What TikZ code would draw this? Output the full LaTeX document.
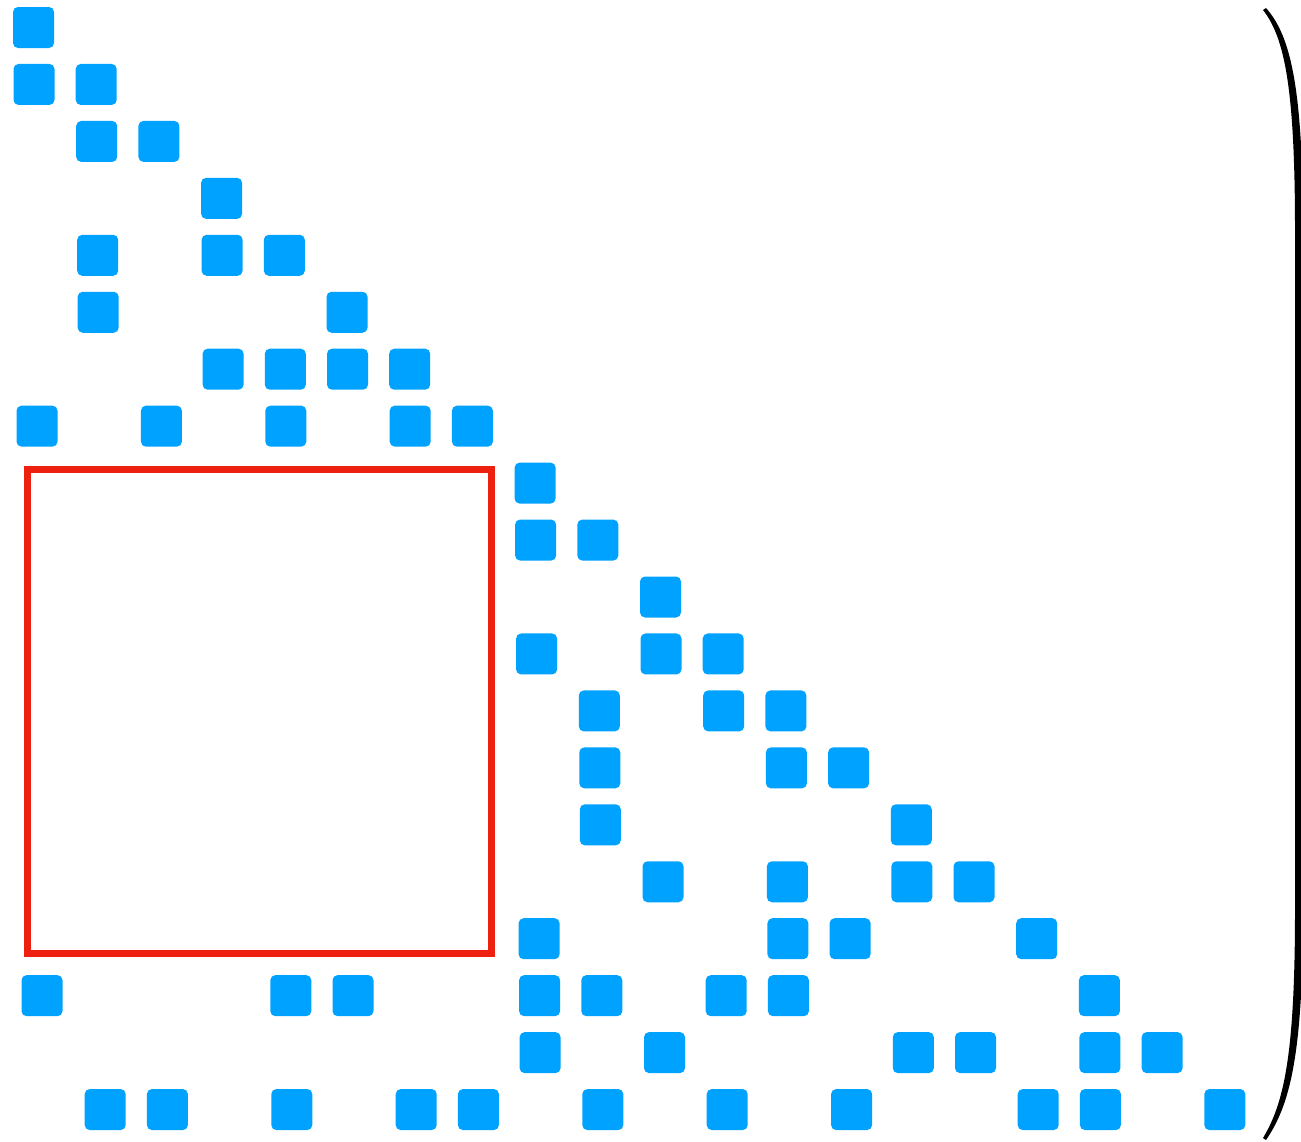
\documentclass[tikz,border=0pt]{standalone}
\usepackage{tikz}
\definecolor{cellblue}{RGB}{0,162,255}
\definecolor{boxred}{RGB}{238,32,16}
\tikzset{
  cell/.style={fill=cellblue, draw=none, rounded corners=5pt, minimum size=41pt, inner sep=0pt},
}
\begin{document}
\begin{tikzpicture}[x=1pt,y=-1pt]
\useasboundingbox (0,0) rectangle (1301,1141);
\foreach \r/\cols in {1/{1},2/{1,2},3/{2,3},4/{4},5/{2,4,5},6/{2,6},7/{4,5,6,7},8/{1,3,5,7,8},
  9/{9},10/{9,10},11/{11},12/{9,11,12},13/{10,12,13},14/{10,13,14},15/{10,15},16/{11,13,15,16},
  17/{9,13,14,17},18/{1,5,6,9,10,12,13,18},19/{9,11,15,16,18,19},20/{2,3,5,7,8,10,12,14,17,18,20}}{
  \foreach \c in \cols {
    \node[cell] (s-\r-\c) at ({33.5+62.2*(\c-1)+0.5*(\r-1)},{27.5+56.95*(\r-1)}) {};
  }
}
\coordinate (zb1) at (27,469);
\coordinate (zb2) at (491.5,953);
\draw[draw=boxred, line width=7pt] (zb1) rectangle (zb2);
\fill[black] (1266,8) .. controls (1290,35) and (1303,85) .. (1303,230) -- (1303,910)
  .. controls (1303,1055) and (1290,1105) .. (1266,1140)
  -- (1263,1138) .. controls (1284,1103) and (1295,1055) .. (1295,910) -- (1295,230)
  .. controls (1295,85) and (1284,37) .. (1263,10) -- cycle;
\end{tikzpicture}
\end{document}
